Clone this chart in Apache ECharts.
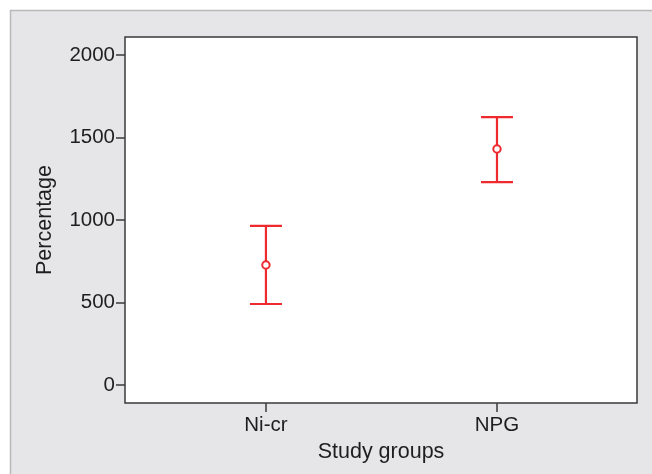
<!DOCTYPE html>
<html><head><meta charset="utf-8">
<script src="https://cdn.jsdelivr.net/npm/echarts@6/dist/echarts.min.js"></script>
<style>html,body{margin:0;padding:0;background:#fff}#c{width:652px;height:474px}</style>
</head><body><div id="c"></div>
<script>
const categories = ['Ni-cr', 'NPG'];
const means = [727, 1430];
const lower = [491, 1230];
const upper = [964, 1624];
const yTicks = [0, 500, 1000, 1500, 2000];

const chart = echarts.init(document.getElementById('c'));
const font = 'Liberation Sans, Arial, sans-serif';
const red = '#ee2a2e';
const data = categories.map((c, i) => [i + 1, means[i], lower[i], upper[i]]);

chart.setOption({
  animation: false,
  backgroundColor: '#ffffff',
  graphic: [{
    type: 'rect', silent: true, z: -10,
    shape: { x: 10.5, y: 10.5, width: 700, height: 500 },
    style: { fill: '#e6e6e8', stroke: '#b9b9b9', lineWidth: 1.5 }
  }],
  grid: { left: 125, top: 37, right: 15, bottom: 71, show: true, backgroundColor: '#ffffff', borderColor: '#3a3a3a', borderWidth: 1.5 },
  xAxis: {
    type: 'value', min: 0.39, max: 2.606,
    name: 'Study groups', nameLocation: 'middle', nameGap: 38,
    nameTextStyle: { fontFamily: font, fontSize: 21.5, color: '#1e1e1e' },
    splitLine: { show: false },
    axisLine: { show: false, onZero: false },
    axisTick: { show: true, customValues: [1, 2], length: 9, lineStyle: { color: '#3a3a3a', width: 1.5 } },
    axisLabel: { customValues: [1, 2], margin: 12, fontFamily: font, fontSize: 20.5, color: '#1e1e1e',
      formatter: v => categories[Math.round(v) - 1] || '' }
  },
  yAxis: {
    type: 'value', min: -109, max: 2109,
    name: 'Percentage', nameLocation: 'middle', nameGap: 69, nameRotate: 90,
    nameTextStyle: { fontFamily: font, fontSize: 21.5, color: '#1e1e1e' },
    splitLine: { show: false },
    axisLine: { show: false, onZero: false },
    axisTick: { show: true, customValues: yTicks, length: 9, lineStyle: { color: '#3a3a3a', width: 1.5 } },
    axisLabel: { customValues: yTicks, margin: 10, fontFamily: font, fontSize: 20.5, color: '#1e1e1e',
      formatter: v => String(v) }
  },
  series: [{
    type: 'custom',
    data: data,
    renderItem: function (params, api) {
      const x = api.value(0);
      const c = api.coord([x, api.value(1)]);
      const lo = api.coord([x, api.value(2)]);
      const hi = api.coord([x, api.value(3)]);
      const hw = 16;
      const ls = { stroke: red, lineWidth: 2.2 };
      return {
        type: 'group',
        children: [
          { type: 'line', shape: { x1: lo[0], y1: lo[1], x2: hi[0], y2: hi[1] }, style: ls },
          { type: 'line', shape: { x1: lo[0] - hw, y1: lo[1], x2: lo[0] + hw, y2: lo[1] }, style: ls },
          { type: 'line', shape: { x1: hi[0] - hw, y1: hi[1], x2: hi[0] + hw, y2: hi[1] }, style: ls },
          { type: 'circle', shape: { cx: c[0], cy: c[1], r: 3.7 }, style: { fill: '#fff', stroke: red, lineWidth: 2 } }
        ]
      };
    }
  }]
});
</script></body></html>
